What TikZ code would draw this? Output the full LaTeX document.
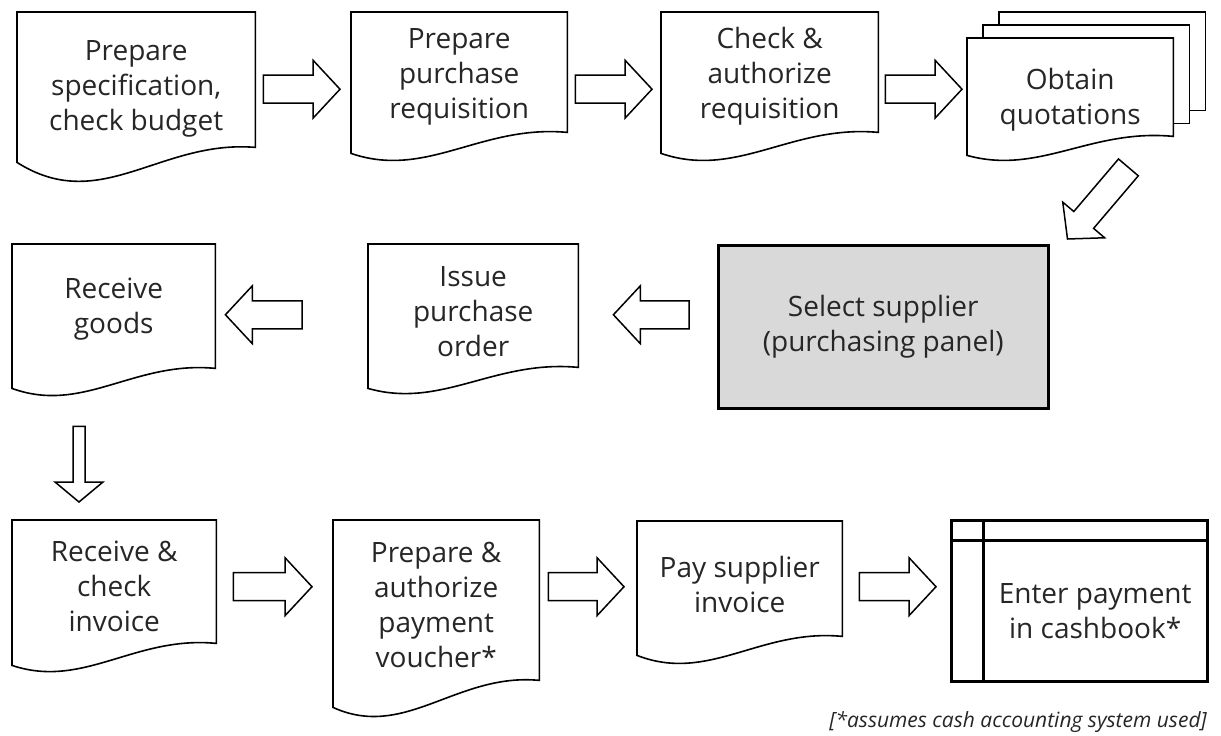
\documentclass[tikz,border=0pt]{standalone}
\usepackage{fontspec}
\setmainfont{Open Sans}
\usetikzlibrary{calc,backgrounds}

\tikzset{
    docnode/.style={anchor=north west, inner sep=0pt, align=center, text=black!85,
        font=\fontsize{28}{35}\selectfont},
    docline/.style={draw=black, line width=1.6pt, fill=white},
    barrow/.style={draw=black, line width=1.5pt, fill=white, line join=miter},
    heavy/.style={draw=black, line width=3pt}
}

% document outline round a node: right drop, left drop, wave controls
\newcommand\docline[5]{%
    \begin{pgfonlayer}{background}
    \draw[docline] (#1.north west) -- (#1.north east) -- ($(#1.south east)+(0,#2)$)
        .. controls ($(#1.south west)!0.6!(#1.south east)+(0,#5)$)
        and ($(#1.south west)!0.35!(#1.south east)+(0,#4)$) .. ($(#1.south west)+(0,#3)$) -- cycle;
    \end{pgfonlayer}
}

% block arrow: tail, tip, half shaft, half head, head length
\newcommand\blockarrow[5]{%
    \coordinate (ba) at ($(#2)!#5!(#1)$);
    \draw[barrow] ($(#1)!#3!90:(#2)$) -- ($(ba)!#3!90:(#2)$) -- ($(ba)!#4!90:(#2)$) -- (#2)
        -- ($(ba)!#4!-90:(#2)$) -- ($(ba)!#3!-90:(#2)$) -- ($(#1)!#3!-90:(#2)$) -- cycle;
}

\begin{document}
\begin{tikzpicture}[x=1pt, y=-1pt]
    \useasboundingbox (0,0) rectangle (1221,736);

    % First row
    \node[docnode, minimum width=238, minimum height=154] (spec) at (17,12) {Prepare\\specification,\\check budget};
    \node[docnode, minimum width=216, minimum height=129] (req) at (351,12) {Prepare\\purchase\\requisition};
    \node[docnode, minimum width=217, minimum height=129] (auth) at (661,12) {Check \&\\authorize\\requisition};
    \node[docnode, minimum width=206, minimum height=124] (quote) at (967,38) {Obtain\\quotations};

    % Second row
    \node[docnode, draw, fill=gray!30, line width=2.5pt, minimum width=330, minimum height=163] (select) at (717,244) {Select supplier\\(purchasing panel)};
    \node[docnode, minimum width=210, minimum height=135] (order) at (368,244) {Issue\\purchase\\order};
    \node[docnode, minimum width=203, minimum height=130] (goods) at (12,244) {Receive\\goods};

    % Third row
    \node[docnode, minimum width=204, minimum height=133] (invoice) at (12,520) {Receive \&\\check\\invoice};
    \node[docnode, minimum width=206, minimum height=170] (voucher) at (333,520) {Prepare \&\\authorize\\payment\\voucher*};
    \node[docnode, minimum width=205, minimum height=126] (pay) at (637,521) {Pay supplier\\invoice};
    \node[docnode, minimum width=224, minimum height=141] (cash) at (983,540) {Enter payment\\in cashbook*};

    \node[anchor=east, inner sep=0pt, text=black!85, font=\fontsize{21}{24}\selectfont\itshape] (note) at (1207,722) {[*assumes cash accounting system used]};

    % Quotation copies behind
    \begin{pgfonlayer}{background}
        \draw[docline] ($(quote.north west)+(32,-26)$) rectangle ($(quote.south east)+(32,-52)$);
        \draw[docline] ($(quote.north west)+(16,-13)$) rectangle ($(quote.south east)+(16,-39)$);
    \end{pgfonlayer}

    % Document outlines
    \foreach \n/\r/\l/\a/\b in {spec/-19/-4/49/-27, req/-9/12/38/-17, auth/-9/12/38/-17,
        quote/-26/-7/13/-34, order/-12/9/30/-20, goods/-6/14/40/-14,
        invoice/-10/12/36/-18, voucher/-10/17/50/-18, pay/-11/8/36/-19} {
        \docline{\n}{\r}{\l}{\a}{\b}
    }

    % Cashbook
    \draw[heavy] ($(cash.north west)+(-32,-20)$) rectangle (cash.south east);
    \draw[heavy] ($(cash.north west)+(-32,0)$) -- (cash.north east);
    \draw[heavy] ($(cash.north west)+(0,-20)$) -- (cash.south west);

    % Arrows
    \coordinate (t1) at ($(spec.east)+(8,0)$);
    \coordinate (h1) at ($(req.west|-spec.east)+(-11,0)$);
    \coordinate (t2) at ($(req.east|-spec.east)+(8,0)$);
    \coordinate (h2) at ($(auth.west|-spec.east)+(-9,0)$);
    \coordinate (t3) at ($(auth.east|-spec.east)+(7,0)$);
    \coordinate (h3) at ($(quote.west|-spec.east)+(-5,0)$);
    \coordinate (t4) at ($(quote.south east)+(-45,5)$);
    \coordinate (h4) at ($(select.north east)+(18,-5)$);
    \coordinate (t5) at ($(select.west)+(-28,-12)$);
    \coordinate (h5) at ($(order.east|-t5)+(35,0)$);
    \coordinate (t6) at ($(order.west|-t5)+(-66,0)$);
    \coordinate (h6) at ($(goods.east|-t5)+(10,0)$);
    \coordinate (t7) at ($(goods.south west)+(67,52)$);
    \coordinate (h7) at ($(invoice.north west)+(67,-18)$);
    \coordinate (t8) at ($(invoice.east)+(17,0)$);
    \coordinate (h8) at ($(voucher.west|-invoice.east)+(-21,0)$);
    \coordinate (t9) at ($(voucher.east|-invoice.east)+(9,0)$);
    \coordinate (h9) at ($(pay.west|-invoice.east)+(-13,0)$);
    \coordinate (t10) at ($(pay.east|-invoice.east)+(17,0)$);
    \coordinate (h10) at ($(cash.west|-invoice.east)+(-47,0)$);

    \foreach \i in {1,2,3,5,6,8,9,10} {
        \blockarrow{t\i}{h\i}{14pt}{29pt}{27pt}
    }
    \blockarrow{t4}{h4}{13pt}{27.5pt}{25pt}
    \blockarrow{t7}{h7}{6pt}{24pt}{20pt}
\end{tikzpicture}
\end{document}
